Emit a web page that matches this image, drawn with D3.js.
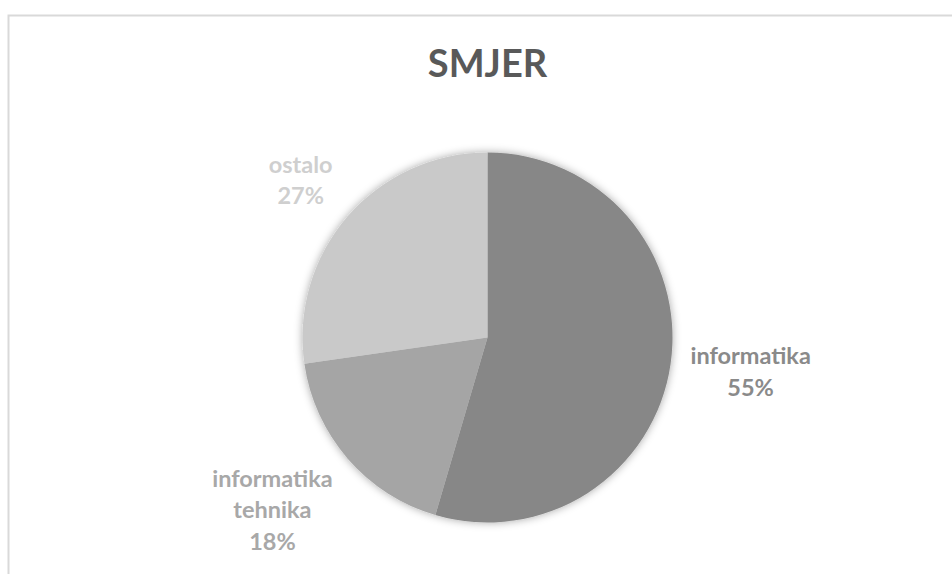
<!DOCTYPE html>
<html>
<head>
<meta charset="utf-8">
<script src="https://cdn.jsdelivr.net/npm/d3@7"></script>
<style>
  html, body { margin: 0; padding: 0; background: #ffffff; }
  #chart { width: 952px; height: 574px; }
  text { font-family: Lato, "Open Sans", sans-serif; font-weight: bold; }
</style>
</head>
<body>
<div id="chart"></div>
<script>
// chart data
const title = "SMJER";
const categories = ["informatika", "informatika tehnika", "ostalo"];
const counts = [6, 2, 3];
const sliceColors = ["#878787", "#a5a5a5", "#c9c9c9"];
const labelColors = ["#8a8a8a", "#a8a8a8", "#cfcfcf"];

const width = 952, height = 574;
const cx = 487.5, cy = 337.5, radius = 185;

const svg = d3.select("#chart")
    .append("svg")
    .attr("width", width)
    .attr("height", height);

// soft shadow round the pie
const defs = svg.append("defs");
defs.append("filter")
    .attr("id", "glow")
    .attr("x", "-20%").attr("y", "-20%")
    .attr("width", "140%").attr("height", "140%")
    .append("feDropShadow")
    .attr("dx", 0).attr("dy", 0)
    .attr("stdDeviation", 4)
    .attr("flood-color", "#000")
    .attr("flood-opacity", 0.35);

// chart area border (only top and left show in the window)
svg.append("rect")
    .attr("x", 8.5).attr("y", 15.5)
    .attr("width", 960).attr("height", 600)
    .attr("fill", "#ffffff")
    .attr("stroke", "#d9d9d9")
    .attr("stroke-width", 2);

// title
svg.append("text")
    .attr("x", cx)
    .attr("y", 77)
    .attr("text-anchor", "middle")
    .style("font-size", "38px")
    .style("fill", "#595959")
    .text(title);

const total = d3.sum(counts);
const pie = d3.pie().sort(null).value(d => d)(counts);
const arc = d3.arc().innerRadius(0).outerRadius(radius);

const g = svg.append("g").attr("transform", `translate(${cx},${cy})`);

g.append("g")
    .attr("filter", "url(#glow)")
    .selectAll("path")
    .data(pie)
    .enter()
    .append("path")
    .attr("d", arc)
    .attr("fill", (d, i) => sliceColors[i]);

// data labels outside the slices
const fontSize = 23.5, lineGap = 31.5, capH = 17;
pie.forEach((d, i) => {
    const mid = (d.startAngle + d.endAngle) / 2;
    const dirX = Math.sin(mid), dirY = -Math.cos(mid);
    const ax = (radius + 20) * dirX, ay = (radius + 20) * dirY;

    const lines = categories[i].split(" ").concat([d3.format(".0%")(counts[i] / total)]);
    const label = g.append("text")
        .attr("text-anchor", "middle")
        .style("font-size", fontSize + "px")
        .style("fill", labelColors[i]);

    const spans = lines.map(s => label.append("tspan").text(s));
    const halfW = d3.max(spans, s => s.node().getComputedTextLength()) / 2;
    const halfH = ((lines.length - 1) * lineGap + capH) / 2;

    const bx = ax + Math.sign(dirX) * halfW;
    const by = ay + dirY * halfH * 1.45;
    spans.forEach((s, k) => {
        s.attr("x", bx).attr("y", by - halfH + capH + k * lineGap);
    });
});
</script>
</body>
</html>
